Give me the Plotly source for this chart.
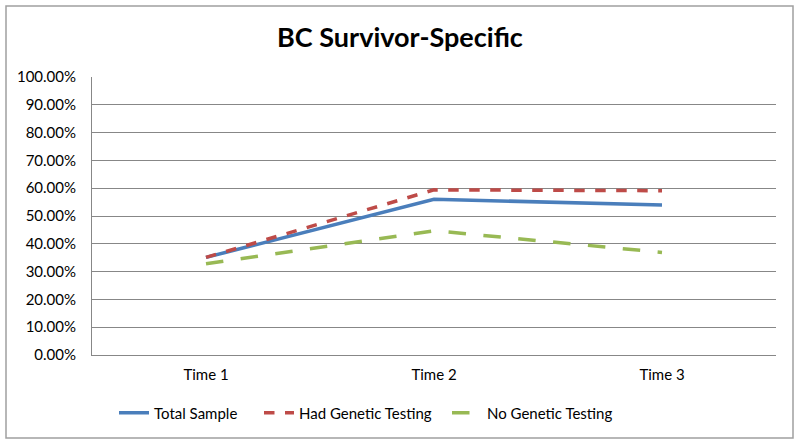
import plotly.graph_objects as go

times = ['Time 1', 'Time 2', 'Time 3']
total_sample = [0.351, 0.560, 0.540]
had_testing = [0.351, 0.594, 0.591]
no_testing = [0.328, 0.447, 0.369]
y_ticks = [i / 10 for i in range(11)]

W, H = 800, 445
L, R, T, B = 92, 24, 77, 90
pw, ph = W - L - R, H - T - B

fig = go.Figure()
fig.add_trace(go.Scatter(x=times, y=total_sample, mode='lines', name='Total Sample',
                         line=dict(color='#4A7EBB', width=3.5), legend='legend'))
fig.add_trace(go.Scatter(x=times, y=had_testing, mode='lines', name='Had Genetic Testing',
                         line=dict(color='#BE4B48', width=3.5, dash='dash'), legend='legend2'))
fig.add_trace(go.Scatter(x=times, y=no_testing, mode='lines', name='No Genetic Testing',
                         line=dict(color='#98B954', width=3.5, dash='longdash'), legend='legend3'))

# chart border (Excel-style outer frame)
fig.add_shape(type='rect', xref='paper', yref='paper',
              x0=(6 - L) / pw, x1=(793 - L) / pw,
              y0=(H - B - 438) / ph, y1=(H - B - 6) / ph,
              line=dict(color='#A0A0A0', width=1.5))


def legend_at(px):
    return dict(orientation='h', x=(px - L) / pw, xanchor='left',
                y=-(413 - (H - B)) / ph, yanchor='middle',
                font=dict(size=15), itemwidth=30)


fig.update_layout(
    width=W, height=H,
    margin=dict(l=L, r=R, t=T, b=B),
    paper_bgcolor='white', plot_bgcolor='white',
    font=dict(family='Lato, Open Sans, sans-serif', size=15, color='black'),
    title=dict(text='<b>BC Survivor-Specific</b>', x=0.5, xanchor='center',
               y=1 - 38 / H, yanchor='middle', font=dict(size=27)),
    legend=legend_at(114),
    legend2=legend_at(259),
    legend3=legend_at(447),
    showlegend=True,
)
fig.update_xaxes(showgrid=False, showline=True, linecolor='#878787', linewidth=1,
                 ticks='', range=[-0.5, 2.5], ticklabelstandoff=6)
fig.update_yaxes(range=[0, 1], tickvals=y_ticks, tickformat='.2%', showgrid=True,
                 gridcolor='#878787', gridwidth=1, showline=True, linecolor='#878787',
                 zeroline=False, ticks='', ticklabelstandoff=12)

fig.write_html('out.html', config={'displayModeBar': False},
               post_script="document.body.style.margin='0';")
